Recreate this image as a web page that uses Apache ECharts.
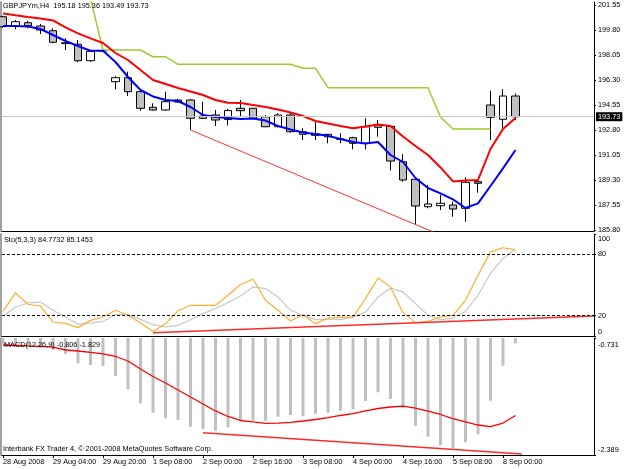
<!DOCTYPE html>
<html><head><meta charset="utf-8">
<script src="https://cdn.jsdelivr.net/npm/echarts@6/dist/echarts.min.js"></script>
<style>html,body{margin:0;padding:0;background:#fff}#c{width:625px;height:469px}</style>
</head><body><div id="c"></div>
<script>
// ---------- data ----------
const symbol = 'GBPJPYm,H4';
// [open, close, low, high]
const candles = [
 [200.73,200.03,199.95,200.80],[200.10,200.38,199.85,200.50],[200.31,200.10,199.92,200.43],
 [200.08,199.80,199.52,200.22],[199.75,198.94,198.87,199.92],[198.90,198.85,198.40,199.22],
 [198.80,197.65,197.54,199.10],[197.65,198.31,197.58,198.40],[198.33,198.35,198.30,198.40],
 [196.18,196.46,195.65,196.58],[196.46,195.48,195.18,196.88],[195.48,194.32,194.15,195.60],
 [194.39,194.20,194.15,194.67],[194.20,194.78,194.15,195.48],[194.90,194.76,194.71,194.95],
 [194.90,193.62,192.80,194.95],[193.78,193.62,193.57,194.78],[193.85,193.50,193.08,194.20],
 [193.53,194.16,193.11,194.27],[194.32,194.15,193.78,194.90],[194.32,193.62,193.57,194.34],
 [193.73,193.03,192.99,193.85],[193.03,193.85,192.99,193.97],[193.85,192.68,192.61,193.97],
 [192.68,192.50,192.10,192.92],[192.52,192.43,192.10,193.45],[192.50,192.33,191.87,192.52],
 [192.17,192.15,191.87,192.57],[192.26,191.87,191.45,192.33],[191.87,193.03,191.45,193.62],
 [193.15,192.99,192.33,193.50],[193.06,190.63,189.97,193.15],[190.58,189.30,189.18,191.12],
 [189.35,187.48,186.22,189.42],[187.43,187.62,187.32,188.95],[187.50,187.67,187.20,188.25],
 [187.55,187.27,186.73,187.78],[187.32,189.14,186.38,189.49],[189.18,189.07,188.41,189.30],
 [194.55,193.69,192.10,195.55],[193.55,195.18,192.92,195.65],[195.18,193.73,193.49,195.36]
];
const maRed = [200.96,200.83,200.71,200.61,200.47,199.98,199.56,199.21,198.89,198.19,197.70,197.00,
 196.30,196.02,195.74,195.50,195.25,194.90,194.71,194.69,194.55,194.41,194.24,194.03,193.78,193.43,
 193.26,193.08,192.92,193.05,193.19,193.08,192.35,191.68,191.05,190.18,189.20,189.27,189.30,191.47,
 192.87,193.64];
const maBlue = [200.08,200.08,200.05,199.87,199.45,199.03,198.68,198.35,198.35,197.56,196.51,195.60,
 195.15,194.90,194.83,194.41,193.85,193.71,193.64,193.57,193.60,193.46,193.08,192.84,192.63,192.52,
 192.39,192.17,191.96,191.86,191.96,191.05,190.56,189.44,188.74,188.36,187.94,187.34,187.66,188.88,
 190.11,191.40];
const stopGreen = [null,null,null,null,null,null,null,202.00,198.40,198.40,198.40,198.40,197.93,197.93,
 197.40,197.40,197.40,197.40,197.40,197.40,197.40,197.40,197.40,197.40,197.12,197.12,195.76,195.76,
 195.76,195.76,195.76,195.76,195.76,195.76,195.76,193.71,192.87,192.87,192.87,192.87,null,null];
const stochK = [24.2,42.2,31.1,29.4,13.7,12.4,8.2,15.3,18.6,25.2,20.3,12.7,4.5,12.1,24.5,30.1,30.1,30.1,
 39.9,50.5,55.7,35.0,25.2,14.7,20.8,12.1,17.6,18.6,18.6,36.7,56.9,48.1,22.9,13.1,14.4,18.6,20.3,35.0,
 59.6,82.5,86.5,84.7732];
const stochD = [19.3,28.4,32.4,33.3,25.2,18.6,11.4,12.7,14.4,21.0,21.0,16.3,11.1,8.8,10.4,16.0,21.9,26.9,
 32.8,39.2,48.1,46.5,38.3,25.2,20.3,16.0,16.3,16.3,18.3,23.5,38.3,47.1,43.2,31.8,20.3,16.0,17.6,24.2,
 39.9,61.3,76.0,85.1453];
const macdMain = [-0.816,-0.830,-0.844,-0.873,-0.901,-0.958,-1.090,-1.114,-1.128,-1.269,-1.454,-1.656,
 -1.790,-1.869,-1.893,-1.988,-2.021,-2.045,-1.996,-1.917,-1.903,-1.903,-1.846,-1.822,-1.836,-1.804,
 -1.790,-1.761,-1.741,-1.624,-1.500,-1.595,-1.727,-1.974,-2.130,-2.247,-2.294,-2.209,-2.096,-1.620,
 -1.124,-0.806];
const macdSignal = [-0.830,-0.837,-0.844,-0.849,-0.859,-0.901,-0.915,-0.934,-0.955,-0.993,-1.057,-1.170,
 -1.277,-1.369,-1.468,-1.567,-1.666,-1.765,-1.843,-1.900,-1.921,-1.940,-1.936,-1.926,-1.907,-1.886,
 -1.858,-1.829,-1.804,-1.763,-1.730,-1.709,-1.697,-1.726,-1.768,-1.815,-1.872,-1.921,-1.964,-1.988,
 -1.936,-1.829];
const priceTicks = [185.80,187.55,189.30,191.05,192.80,194.55,196.30,198.05,199.80,201.55];
const stochTicks = [0,20,80,100];
const stochLevels = [80,20];
const macdTicks = [-2.389,-0.731];
const timeLabels = ['28 Aug 2008','29 Aug 04:00','29 Aug 20:00','1 Sep 08:00','2 Sep 00:00','2 Sep 16:00',
 '3 Sep 08:00','4 Sep 00:00','4 Sep 16:00','5 Sep 08:00','8 Sep 00:00'];
const timeLabelBars = [0,4,8,12,16,20,24,28,32,36,40];
const priceTrend = [[15,192.80],[36,185.08]];
const stochTrend = [[12,3.2],[47.28,19.7]];
const macdTrend = [[16,-2.073],[41.5,-2.376]];
const bidPrice = 193.73;
const copyright = 'Interbank FX Trader 4, \u00a9 2001-2008 MetaQuotes Software Corp.';

// ---------- chart ----------
const FONT = 'Liberation Sans, Arial, sans-serif';
const FS = 7.3;
const xMin = -0.08, xMax = 47.28;
const pairs = arr => arr.map((v,i)=>[i,v]).filter(p=>p[1]!=null);
const last = candles[candles.length-1];
const header = `${symbol}  ${last[0].toFixed(2)} ${last[3].toFixed(2)} ${last[2].toFixed(2)} ${last[1].toFixed(2)}`;
const stochHeader = `Sto(5,3,3) ${stochK[stochK.length-1].toFixed(4)} ${stochD[stochD.length-1].toFixed(4)}`;
const macdHeader = `MACD(12,26,9) ${macdMain[macdMain.length-1].toFixed(3)} ${macdSignal[macdSignal.length-1].toFixed(3)}`;

const grids = [
  {left:2, right:31, top:2, height:229},
  {left:2, right:31, top:234, height:102},
  {left:2, right:31, top:338, height:117}
];
const baseX = (gi, extra) => Object.assign({
  gridIndex: gi, type:'value', min:xMin, max:xMax,
  axisLine:{show:true, onZero:false, lineStyle:{color:'#000', width:1}},
  axisTick:{show:false}, axisLabel:{show:false}, splitLine:{show:false}
}, extra||{});
const rightY = (gi, min, max, ticks, fmt, rich) => ({
  gridIndex: gi, type:'value', position:'right', min, max,
  axisLine:{show:true, onZero:false, lineStyle:{color:'#000', width:1}},
  axisTick:{show:true, customValues: ticks, length:2, lineStyle:{color:'#000'}},
  axisLabel:{show:true, customValues: ticks, formatter: fmt, rich: rich||{}, fontSize:FS, fontFamily:FONT, color:'#000', margin:4, align:'left'},
  splitLine:{show:false}
});
const leftY = (gi, min, max) => ({
  gridIndex: gi, type:'value', position:'left', min, max, offset:1,
  axisLine:{show:true, onZero:false, lineStyle:{color:'#a0a0a0', width:2}},
  axisTick:{show:false}, axisLabel:{show:false}, splitLine:{show:false}
});

const option = {
  animation:false,
  backgroundColor:'#fff',
  textStyle:{fontFamily:FONT},
  title:[
    {text:header, left:3, top:2},
    {text:stochHeader, left:4, top:236},
    {text:macdHeader, left:4, top:341},
    {text:copyright, left:3, top:445}
  ].map(t=>Object.assign(t,{padding:0, textStyle:{fontSize:FS, fontWeight:'normal', color:'#000', fontFamily:FONT}})),
  grid: grids,
  xAxis:[
    baseX(0), baseX(1),
    baseX(2, {
      axisTick:{show:true, customValues: timeLabelBars, length:3, lineStyle:{color:'#000'}},
      axisLabel:{show:true, customValues: timeLabelBars, align:'left', margin:3, fontSize:FS, fontFamily:FONT, color:'#000',
        formatter: v => { const k = timeLabelBars.indexOf(Math.round(v)); return k>=0 ? timeLabels[k] : ''; }}
    })
  ],
  yAxis:[
    rightY(0, 185.73, 201.76, priceTicks, v => v.toFixed(2)),
    rightY(1, 0, 100, stochTicks, v => v===100 ? '{t|100}' : (v===0 ? '{b|0}' : String(v)),
      {t:{padding:[9,0,0,0], fontSize:FS, fontFamily:FONT, color:'#000'}, b:{padding:[0,0,8,0], fontSize:FS, fontFamily:FONT, color:'#000'}}),
    rightY(2, macdTicks[0], macdTicks[1], macdTicks,
      v => Math.abs(v-macdTicks[1])<1e-6 ? '{t|'+v.toFixed(3)+'}' : '{b|'+v.toFixed(3)+'}',
      {t:{padding:[14,0,0,0], fontSize:FS, fontFamily:FONT, color:'#000'}, b:{padding:[0,0,10,0], fontSize:FS, fontFamily:FONT, color:'#000'}}),
    leftY(0, 185.73, 201.76), leftY(1, 0, 100), leftY(2, macdTicks[0], macdTicks[1])
  ],
  series:[
    {type:'candlestick', xAxisIndex:0, yAxisIndex:0, barWidth:8,
     data: candles.map((c,i)=>[i, c[0], c[1], c[2], c[3]]),
     itemStyle:{color:'#fff', color0:'#c0c0c0', borderColor:'#000', borderColor0:'#000', borderWidth:1},
     markLine:{silent:true, symbol:['none','none'], animation:false,
       lineStyle:{color:'#c8c8c8', type:'solid', width:1},
       label:{show:true, position:'end', distance:2, formatter: bidPrice.toFixed(2), backgroundColor:'#000', color:'#fff',
         fontSize:FS, fontFamily:FONT, padding:[1,2,1,2]},
       data:[{yAxis: bidPrice}]}
    },
    {type:'line', xAxisIndex:0, yAxisIndex:0, data:pairs(stopGreen), symbol:'none', lineStyle:{color:'#9acd32', width:1.5}},
    {type:'line', xAxisIndex:0, yAxisIndex:0, data:pairs(maRed), symbol:'none', lineStyle:{color:'#ff0000', width:2}},
    {type:'line', xAxisIndex:0, yAxisIndex:0, data:pairs(maBlue), symbol:'none', lineStyle:{color:'#0000ff', width:2}},
    {type:'line', xAxisIndex:0, yAxisIndex:0, data:priceTrend, symbol:'none', lineStyle:{color:'#ff3030', width:1}},

    {type:'line', xAxisIndex:1, yAxisIndex:1, data:pairs(stochD), symbol:'none', lineStyle:{color:'#c8c8c8', width:1.2},
     markLine:{silent:true, symbol:['none','none'], label:{show:false},
       lineStyle:{color:'#000', type:[3,2], width:1}, data: stochLevels.map(v=>({yAxis:v}))}},
    {type:'line', xAxisIndex:1, yAxisIndex:1, data:pairs(stochK), symbol:'none', lineStyle:{color:'#fbb034', width:1.2}},
    {type:'line', xAxisIndex:1, yAxisIndex:1, data:stochTrend, symbol:'none', lineStyle:{color:'#ff2a2a', width:1.5}},

    {type:'bar', xAxisIndex:2, yAxisIndex:2, data:pairs(macdMain), barWidth:3, itemStyle:{color:'#c0c0c0'}},
    {type:'line', xAxisIndex:2, yAxisIndex:2, data:pairs(macdSignal), symbol:'none', lineStyle:{color:'#ff0000', width:1.3}},
    {type:'line', xAxisIndex:2, yAxisIndex:2, data:macdTrend, symbol:'none', lineStyle:{color:'#ff2a2a', width:1.5}}
  ]
};
const chart = echarts.init(document.getElementById('c'), null, {renderer:'canvas'});
chart.setOption(option);
</script>
</body></html>
